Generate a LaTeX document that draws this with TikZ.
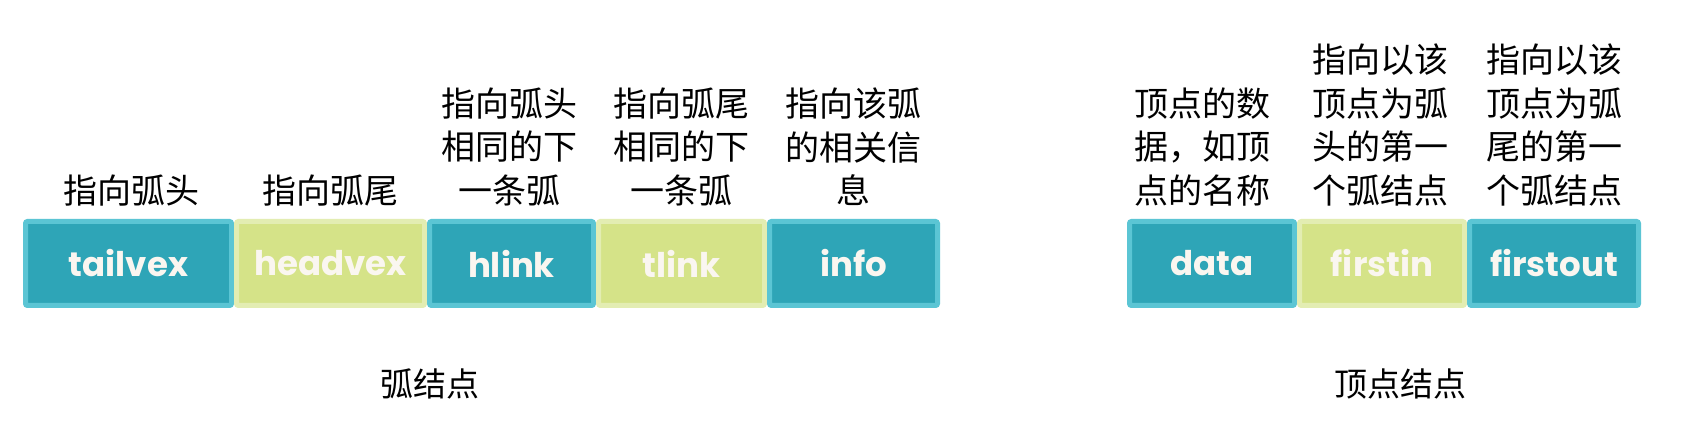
\documentclass[tikz,border=0pt]{standalone}
\usepackage{fontspec}
\newfontfamily\cjk{Noto Sans CJK SC}
\newfontfamily\boxfont{Poppins}
\definecolor{tealfill}{HTML}{2EA5B7}
\definecolor{tealedge}{HTML}{5BC5D4}
\definecolor{greenfill}{HTML}{D5E388}
\definecolor{greenedge}{HTML}{E3EDB2}
\definecolor{boxtext}{HTML}{FAF6F0}
\begin{document}
\begin{tikzpicture}[x=1pt,y=1pt,
  cell/.style={rectangle, rounded corners=2pt, line width=5pt, inner sep=0pt, outer sep=0pt,
    minimum height=84pt, text=boxtext, font=\boxfont\bfseries\fontsize{34}{40}\selectfont},
  tealcell/.style={cell, fill=tealfill, draw=tealedge},
  greencell/.style={cell, fill=greenfill, draw=greenedge},
  lbl/.style={font=\cjk\fontsize{34}{43.5}\selectfont, align=center, anchor=south, inner sep=0pt},
  captxt/.style={font=\cjk\fontsize{33}{40}\selectfont, inner sep=0pt}]
\useasboundingbox (0,0) rectangle (1685,430);
\fill[white] (0,0) rectangle (1685,430);
% arc node
\node[tealcell, minimum width=206pt] (tailvex) at (128.5,166.5) {tailvex};
\node[greencell, minimum width=188pt] (headvex) at (330.5,166.5) {headvex};
\node[tealcell, minimum width=164pt] (hlink) at (511.5,166.5) {hlink};
\node[greencell, minimum width=166pt] (tlink) at (681.5,166.5) {tlink};
\node[tealcell, minimum width=168pt] (info) at (853.5,166.5) {info};
% vertex node
\node[tealcell, minimum width=165pt] (data) at (1212,166.5) {data};
\node[greencell, minimum width=165pt] (firstin) at (1382,166.5) {firstin};
\node[tealcell, minimum width=169pt] (firstout) at (1554,166.5) {firstout};
% labels
\node[lbl] (l1) at (131,224) {指向弧头};
\node[lbl] (l2) at (330.5,224) {指向弧尾};
\node[lbl] (l3) at (509,224) {指向弧头\\相同的下\\一条弧};
\node[lbl] (l4) at (681.5,224) {指向弧尾\\相同的下\\一条弧};
\node[lbl] (l5) at (853.5,224) {指向该弧\\的相关信\\息};
\node[lbl] (l6) at (1202,224) {顶点的数\\据，如顶\\点的名称};
\node[lbl] (l7) at (1380,224) {指向以该\\顶点为弧\\头的第一\\个弧结点};
\node[lbl] (l8) at (1554,224) {指向以该\\顶点为弧\\尾的第一\\个弧结点};
% captions
\node[captxt] (c1) at (430,46) {弧结点};
\node[captxt] (c2) at (1400,46) {顶点结点};
\end{tikzpicture}
\end{document}
